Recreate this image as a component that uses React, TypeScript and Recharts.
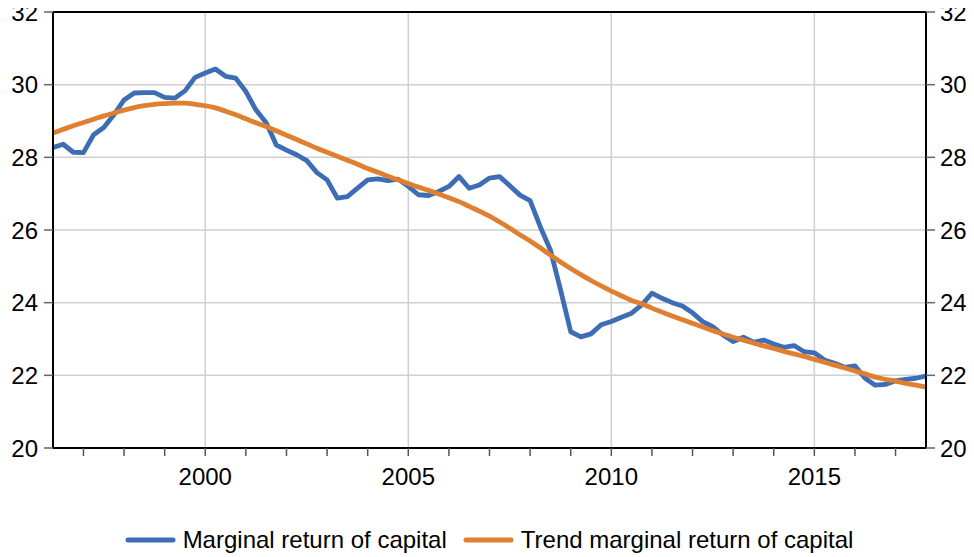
import React from 'react';
import { LineChart, Line, XAxis, YAxis, CartesianGrid, ReferenceLine, Legend } from 'recharts';

const FONT = '"Liberation Sans", Arial, Helvetica, sans-serif';

// quarterly observations 1996Q2 .. 2017Q4
const START_YEAR = 1996;
const START_Q = 2;
const X_DOMAIN: [number, number] = [1996.25, 2017.75];

const marginalReturn = [
  28.27, 28.36, 28.14, 28.13, 28.62, 28.82, 29.17, 29.58, 29.77, 29.78,
  29.78, 29.65, 29.63, 29.83, 30.20, 30.32, 30.43, 30.23, 30.18, 29.81,
  29.30, 28.95, 28.34, 28.20, 28.07, 27.91, 27.58, 27.38, 26.88, 26.92,
  27.15, 27.38, 27.41, 27.36, 27.40, 27.20, 26.97, 26.95, 27.06, 27.20,
  27.47, 27.15, 27.24, 27.43, 27.47, 27.22, 26.96, 26.81, 26.09, 25.45,
  24.35, 23.20, 23.06, 23.14, 23.39, 23.48, 23.60, 23.71, 23.94, 24.26,
  24.12, 24.00, 23.91, 23.72, 23.48, 23.34, 23.11, 22.93, 23.05, 22.91,
  22.97, 22.86, 22.77, 22.82, 22.65, 22.62, 22.42, 22.33, 22.22, 22.26,
  21.92, 21.73, 21.75, 21.85, 21.89, 21.92, 21.98,
];

const trendReturn = [
  28.67, 28.77, 28.87, 28.96, 29.05, 29.14, 29.22, 29.30, 29.37, 29.42,
  29.46, 29.48, 29.49, 29.49, 29.46, 29.42, 29.36, 29.27, 29.17, 29.06,
  28.95, 28.85, 28.73, 28.61, 28.49, 28.37, 28.25, 28.14, 28.03, 27.92,
  27.81, 27.69, 27.59, 27.48, 27.38, 27.28, 27.18, 27.09, 26.99, 26.89,
  26.78, 26.65, 26.52, 26.38, 26.22, 26.05, 25.87, 25.70, 25.51, 25.31,
  25.12, 24.94, 24.77, 24.61, 24.46, 24.32, 24.19, 24.06, 23.97, 23.85,
  23.74, 23.63, 23.53, 23.43, 23.33, 23.23, 23.14, 23.05, 22.97, 22.89,
  22.81, 22.74, 22.66, 22.59, 22.52, 22.44, 22.36, 22.28, 22.20, 22.12,
  22.04, 21.95, 21.89, 21.84, 21.78, 21.73, 21.68,
];

const yearTicks = [
  1997, 1998, 1999, 2000, 2001, 2002, 2003, 2004, 2005, 2006, 2007,
  2008, 2009, 2010, 2011, 2012, 2013, 2014, 2015, 2016, 2017,
];
const labelYears = [2000, 2005, 2010, 2015];
const valueTicks = [20, 22, 24, 26, 28, 30, 32];

const SERIES_NAMES = ['Marginal return of capital', 'Trend marginal return of capital'];
const BLUE = '#3d6db5';
const ORANGE = '#e07f30';

const data = marginalReturn.map((v, i) => {
  const qIndex = START_Q - 1 + i;
  const year = START_YEAR + Math.floor(qIndex / 4);
  const q = (qIndex % 4) + 1;
  return { t: year + (q - 1) / 4, mrc: v, trend: trendReturn[i] };
});

const verticalGen = (props: any) => {
  const xAxis = props && props.xAxis;
  if (xAxis && typeof xAxis.scale === 'function') {
    return labelYears.map((y) => xAxis.scale(y));
  }
  if (xAxis && xAxis.scale && typeof xAxis.scale.map === 'function') {
    return labelYears.map((y) => xAxis.scale.map(y));
  }
  const off = props.offset;
  return labelYears.map(
    (y) => off.left + ((y - X_DOMAIN[0]) / (X_DOMAIN[1] - X_DOMAIN[0])) * off.width
  );
};

const LegendContent = () => (
  <div
    style={{
      display: 'flex',
      justifyContent: 'center',
      alignItems: 'center',
      height: 34,
      fontFamily: FONT,
      fontSize: 24,
      color: '#000',
    }}
  >
    {[BLUE, ORANGE].map((c, i) => (
      <div key={i} style={{ display: 'flex', alignItems: 'center', marginLeft: i === 0 ? 0 : 16 }}>
        <svg width={51} height={10} style={{ marginRight: 7 }}>
          <line x1={3} y1={5} x2={48} y2={5} stroke={c} strokeWidth={5} strokeLinecap="round" />
        </svg>
        <span>{SERIES_NAMES[i]}</span>
      </div>
    ))}
  </div>
);

const tickStyle = { fill: '#000', fontSize: 24, fontFamily: FONT };

export default function App() {
  return (
    <div style={{ marginTop: -12 }}>
      <LineChart
        width={962}
        height={561}
        data={data}
        margin={{ top: 16, right: 0, bottom: 0, left: 0 }}
        style={{ fontFamily: FONT }}
      >
        <CartesianGrid
          yAxisId="left"
          stroke="#d0d0d0"
          strokeWidth={1.5}
          verticalCoordinatesGenerator={verticalGen}
        />
        <XAxis
          dataKey="t"
          type="number"
          domain={X_DOMAIN}
          allowDataOverflow
          ticks={yearTicks}
          interval={0}
          tickFormatter={(v: number) => (labelYears.includes(v) ? String(v) : '')}
          tickSize={8}
          tickMargin={12}
          height={75}
          axisLine={{ stroke: '#000', strokeWidth: 2 }}
          tickLine={{ stroke: '#555', strokeWidth: 1.5 }}
          tick={tickStyle}
        />
        <YAxis
          yAxisId="left"
          domain={[20, 32]}
          ticks={valueTicks}
          interval={0}
          width={45}
          tickSize={9}
          tickMargin={6}
          axisLine={{ stroke: '#000', strokeWidth: 2 }}
          tickLine={{ stroke: '#666', strokeWidth: 1.5 }}
          tick={tickStyle}
        />
        <YAxis
          yAxisId="right"
          orientation="right"
          domain={[20, 32]}
          ticks={valueTicks}
          interval={0}
          width={44}
          tickSize={9}
          tickMargin={5}
          axisLine={{ stroke: '#000', strokeWidth: 2 }}
          tickLine={{ stroke: '#666', strokeWidth: 1.5 }}
          tick={tickStyle}
        />
        <ReferenceLine yAxisId="left" y={32} stroke="#000" strokeWidth={2} />
        <Line
          yAxisId="left"
          type="linear"
          dataKey="mrc"
          name={SERIES_NAMES[0]}
          stroke={BLUE}
          strokeWidth={4.8}
          dot={false}
          strokeLinejoin="round"
          isAnimationActive={false}
        />
        <Line
          yAxisId="right"
          type="monotone"
          dataKey="trend"
          name={SERIES_NAMES[1]}
          stroke={ORANGE}
          strokeWidth={4.8}
          dot={false}
          isAnimationActive={false}
        />
        <Legend verticalAlign="bottom" height={34} content={<LegendContent />} />
      </LineChart>
    </div>
  );
}
